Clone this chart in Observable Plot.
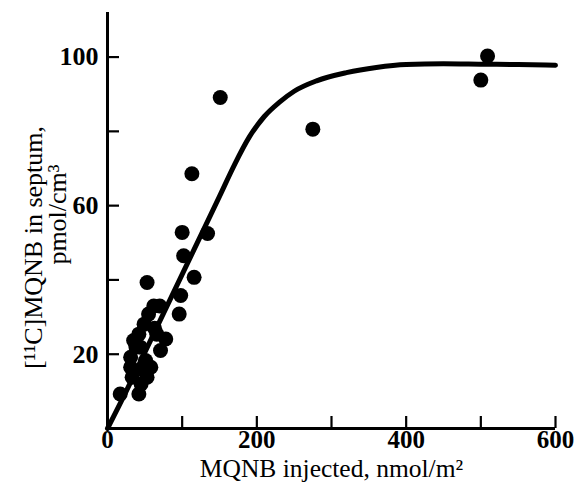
<!DOCTYPE html>
<html>
<head>
<meta charset="utf-8">
<script src="https://cdn.jsdelivr.net/npm/d3@7"></script>
<script src="https://cdn.jsdelivr.net/npm/@observablehq/plot@0.6"></script>
<style>
  html, body { margin: 0; padding: 0; background: #fff; }
  svg { display: block; }
</style>
</head>
<body>
<div id="chart"></div>
<script>
// Measured points: MQNB injected (nmol/m^2) vs [11C]MQNB in septum (pmol/cm^3)
const pointX = [17, 42, 31, 33, 31, 35, 42, 44, 49, 53, 51, 58, 49, 55, 62, 66, 71, 78, 38, 63, 70, 45,
                53, 96, 98, 102, 100, 116, 134, 113, 151, 275, 500, 509];
const pointY = [9.3, 9.3, 16.5, 13.8, 19.2, 23.7, 25.4, 21.9, 15.6, 13.8, 18.3, 16.5, 28.1, 30.8, 33, 25.4, 21, 24.1, 22, 27, 33, 12,
                39.3, 30.8, 35.8, 46.5, 52.8, 40.7, 52.5, 68.6, 89.1, 80.6, 93.8, 100.3];

// Fitted curve
const curveX = [0, 25, 50, 75, 100, 125, 150, 170, 190, 210, 230, 250, 280, 320, 360, 400, 450, 500, 550, 600];
const curveY = [0, 10, 20.5, 31, 41.5, 52, 62.5, 71, 78.5, 84, 87.8, 90.8, 93.6, 95.8, 97.2, 98, 98.2, 98.1, 98, 97.8];

// Ticks
const xTicks = [100, 200, 300, 400, 500, 600];
const xTickLabels = [0, 200, 400, 600];
const yTicks = [20, 40, 60, 80, 100];
const yTickLabels = [20, 60, 100];

const xTitle = "MQNB injected, nmol/m²";
const yTitle1 = "[¹¹C]MQNB in septum,";
const yTitle2 = "pmol/cm³";

const points = pointX.map((x, i) => ({x, y: pointY[i]}));
const curve = curveX.map((x, i) => ({x, y: curveY[i]}));

const serif = "'Liberation Serif', 'DejaVu Serif', serif";

const chart = Plot.plot({
  width: 577,
  height: 482,
  marginLeft: 107,
  marginRight: 22,
  marginTop: 12,
  marginBottom: 54,
  style: {fontFamily: serif, background: "#fff", color: "#000", overflow: "visible"},
  x: {domain: [0, 600]},
  y: {domain: [0, 112]},
  marks: [
    // tick marks pointing inward
    Plot.axisX({ticks: xTicks, tickSize: 12, dy: -12, text: null, strokeWidth: 2.2, label: null}),
    Plot.axisY({ticks: yTicks, tickSize: 12, dx: 12, text: null, strokeWidth: 2.2, label: null}),
    // tick labels
    Plot.axisX({ticks: xTickLabels, tickSize: 0, tickPadding: 2, label: null, fontSize: 25, fontWeight: "bold", tickFormat: d => String(d)}),
    Plot.axisY({ticks: yTickLabels, tickSize: 0, tickPadding: 9, label: null, fontSize: 26, fontWeight: "bold", tickFormat: d => String(d)}),
    // axis lines
    Plot.ruleX([0], {strokeWidth: 3}),
    Plot.ruleY([0], {strokeWidth: 3}),
    // fitted curve
    Plot.line(curve, {x: "x", y: "y", curve: "monotone-x", strokeWidth: 5, stroke: "#000"}),
    // data points
    Plot.dot(points, {x: "x", y: "y", r: 7.5, fill: "#000", stroke: "none"}),
    // axis titles
    Plot.text([xTitle], {frameAnchor: "bottom", dy: 40, fontSize: 25.5, lineAnchor: "middle", text: d => d}),
    Plot.text([yTitle1], {frameAnchor: "left", rotate: -90, textAnchor: "middle", dx: -74, dy: 27, fontSize: 26, text: d => d}),
    Plot.text([yTitle2], {frameAnchor: "left", rotate: -90, textAnchor: "middle", dx: -50, dy: -6, fontSize: 26, text: d => d})
  ]
});

document.getElementById("chart").appendChild(chart);
</script>
</body>
</html>
